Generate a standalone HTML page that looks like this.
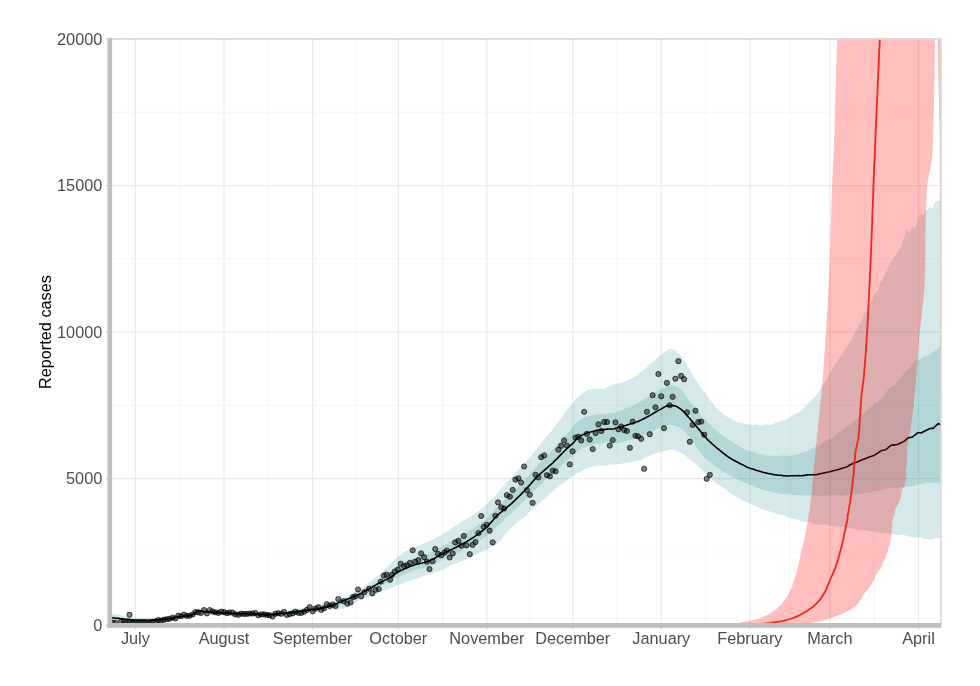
<!DOCTYPE html>
<html lang="en"><head><meta charset="utf-8"><title>Reported cases</title>
<style>html,body{margin:0;padding:0;background:#fff}body{width:980px;height:686px;overflow:hidden}svg{display:block}</style></head>
<body>
<svg width="980" height="686" viewBox="0 0 980 686">
<defs><clipPath id="cp"><rect x="109.8" y="38.9" width="831.2" height="586.4"/></clipPath></defs>
<rect width="980" height="686" fill="#fff"/>
<g stroke="#f2f2f2" stroke-width="0.8" fill="none">
<path d="M109.8 552.0H941.0"/>
<path d="M109.8 405.4H941.0"/>
<path d="M109.8 258.8H941.0"/>
<path d="M109.8 112.2H941.0"/>
<path d="M179.7 38.9V625.3"/>
<path d="M268.3 38.9V625.3"/>
<path d="M355.5 38.9V625.3"/>
<path d="M442.6 38.9V625.3"/>
<path d="M529.8 38.9V625.3"/>
<path d="M617.0 38.9V625.3"/>
<path d="M705.6 38.9V625.3"/>
<path d="M789.9 38.9V625.3"/>
<path d="M874.2 38.9V625.3"/>
</g>
<g stroke="#ebebeb" stroke-width="1.25" fill="none">
<path d="M109.8 478.7H941.0"/>
<path d="M109.8 332.1H941.0"/>
<path d="M109.8 185.5H941.0"/>
<path d="M135.4 38.9V625.3"/>
<path d="M224.0 38.9V625.3"/>
<path d="M312.6 38.9V625.3"/>
<path d="M398.3 38.9V625.3"/>
<path d="M486.9 38.9V625.3"/>
<path d="M572.7 38.9V625.3"/>
<path d="M661.3 38.9V625.3"/>
<path d="M749.9 38.9V625.3"/>
<path d="M829.9 38.9V625.3"/>
<path d="M918.5 38.9V625.3"/>
</g>
<g clip-path="url(#cp)">
<path d="M109.8 613.5L111.2 613.7L112.7 613.9L114.1 614.1L115.5 614.3L116.9 614.5L118.4 614.7L119.8 615.0L121.2 615.2L122.7 615.5L124.1 615.8L125.5 616.1L127.0 616.4L128.4 616.7L129.8 617.0L131.2 617.2L132.7 617.4L134.1 617.5L135.5 617.5L136.9 617.5L138.4 617.5L139.8 617.5L141.2 617.5L142.7 617.6L144.1 617.6L145.5 617.6L146.9 617.6L148.4 617.6L149.8 617.6L151.2 617.6L152.7 617.6L154.1 617.6L155.5 617.6L157.0 617.6L158.4 617.6L159.8 617.5L161.2 617.4L162.7 617.3L164.1 617.1L165.5 616.9L167.0 616.7L168.4 616.5L169.8 616.2L171.2 616.0L172.7 615.7L174.1 615.5L175.5 615.2L177.0 615.0L178.4 614.7L179.8 614.5L181.2 614.3L182.7 614.2L184.1 614.0L185.5 613.9L187.0 613.7L188.4 613.5L189.8 613.3L191.2 613.0L192.7 612.5L194.1 611.4L195.5 610.1L197.0 608.9L198.4 608.3L199.8 608.4L201.3 608.5L202.7 608.8L204.1 609.1L205.5 609.3L207.0 609.6L208.4 609.7L209.8 609.9L211.3 610.0L212.7 610.1L214.1 610.2L215.6 610.3L217.0 610.4L218.4 610.5L219.8 610.6L221.3 610.7L222.7 610.7L224.1 610.8L225.6 610.9L227.0 610.9L228.4 611.0L229.8 611.0L231.3 611.1L232.7 611.1L234.1 611.2L235.6 611.2L237.0 611.3L238.4 611.3L239.8 611.3L241.3 611.4L242.7 611.4L244.1 611.5L245.6 611.5L247.0 611.5L248.4 611.6L249.8 611.6L251.3 611.7L252.7 611.7L254.1 611.8L255.6 611.8L257.0 611.9L258.4 612.0L259.9 612.0L261.3 612.1L262.7 612.1L264.1 612.1L265.6 612.2L267.0 612.2L268.4 612.2L269.9 612.2L271.3 612.1L272.7 612.1L274.1 612.0L275.6 611.8L277.0 611.7L278.4 611.5L279.9 611.3L281.3 611.1L282.7 610.9L284.1 610.7L285.6 610.5L287.0 610.2L288.4 610.0L289.9 609.8L291.3 609.6L292.7 609.4L294.1 609.2L295.6 609.0L297.0 608.8L298.4 608.6L299.9 608.3L301.3 608.1L302.7 607.8L304.1 607.6L305.6 607.3L307.0 607.1L308.4 606.8L309.9 606.5L311.3 606.2L312.7 606.0L314.1 605.7L315.6 605.4L317.0 605.0L318.4 604.7L319.9 604.4L321.3 604.0L322.7 603.7L324.1 603.3L325.6 602.9L327.0 602.6L328.4 602.2L329.9 601.8L331.3 601.4L332.7 601.0L334.1 600.6L335.6 600.2L337.0 599.8L338.4 599.3L339.9 598.8L341.3 598.3L342.7 597.7L344.2 597.1L345.6 596.5L347.0 595.8L348.4 595.1L349.9 594.4L351.3 593.7L352.7 592.9L354.2 592.2L355.6 591.4L357.0 590.6L358.4 589.7L359.9 588.9L361.3 588.0L362.7 587.1L364.2 586.1L365.6 585.1L367.0 584.1L368.4 583.1L369.9 582.1L371.3 581.0L372.7 580.0L374.2 578.8L375.6 577.6L377.0 576.4L378.4 575.2L379.9 573.9L381.3 572.5L382.7 571.2L384.2 569.9L385.6 568.6L387.0 567.2L388.5 565.8L389.9 564.4L391.3 562.9L392.7 561.4L394.2 560.1L395.6 558.8L397.0 557.5L398.5 556.3L399.9 555.3L401.3 554.3L402.8 553.3L404.2 552.4L405.6 551.4L407.0 550.5L408.5 549.7L409.9 548.8L411.3 548.3L412.8 547.9L414.2 547.2L415.6 546.6L417.0 546.0L418.5 545.5L419.9 544.9L421.3 544.3L422.8 543.8L424.2 543.3L425.6 542.7L427.0 542.0L428.5 541.5L429.9 540.9L431.3 540.1L432.8 539.4L434.2 538.7L435.6 537.9L437.0 537.3L438.5 536.6L439.9 536.1L441.3 535.5L442.8 534.1L444.2 532.7L445.6 532.2L447.0 531.7L448.5 530.8L449.9 529.8L451.3 528.6L452.8 527.3L454.2 526.6L455.6 525.8L457.1 524.9L458.5 523.9L459.9 523.0L461.3 522.0L462.8 521.1L464.2 520.3L465.6 519.3L467.1 518.2L468.5 517.8L469.9 517.3L471.3 516.4L472.8 515.5L474.2 514.4L475.6 513.3L477.1 512.0L478.5 510.7L479.9 509.7L481.3 508.7L482.8 507.6L484.2 506.4L485.6 505.1L487.1 503.6L488.5 502.4L489.9 501.1L491.3 499.8L492.8 498.3L494.2 496.6L495.6 494.9L497.1 493.2L498.5 491.4L499.9 489.9L501.4 488.5L502.8 487.1L504.2 485.8L505.6 484.1L507.1 482.4L508.5 480.8L509.9 479.3L511.4 477.9L512.8 476.6L514.2 474.8L515.6 473.1L517.1 471.4L518.5 469.8L519.9 468.3L521.4 466.9L522.8 465.7L524.2 464.4L525.6 462.3L527.1 460.2L528.5 459.0L529.9 457.8L531.4 456.0L532.8 454.2L534.2 452.2L535.6 450.2L537.1 448.3L538.5 446.5L539.9 444.9L541.4 443.3L542.8 441.4L544.2 439.4L545.6 437.5L547.1 435.6L548.5 434.3L549.9 432.9L551.4 431.0L552.8 429.0L554.2 427.3L555.6 425.5L557.1 423.7L558.5 421.8L559.9 419.8L561.4 417.7L562.8 415.7L564.2 413.7L565.6 411.6L567.1 409.6L568.5 407.9L569.9 406.2L571.4 404.6L572.8 403.0L574.2 401.3L575.6 399.7L577.1 398.1L578.5 396.6L579.9 395.3L581.4 394.2L582.8 393.0L584.2 392.0L585.7 390.9L587.1 390.0L588.5 389.7L589.9 389.7L591.4 389.0L592.8 388.5L594.2 388.5L595.7 388.7L597.1 388.9L598.5 389.1L600.0 388.8L601.4 388.4L602.8 388.7L604.2 388.9L605.7 388.1L607.1 387.3L608.5 386.7L610.0 386.1L611.4 385.6L612.8 385.1L614.2 384.6L615.7 384.1L617.1 383.7L618.5 383.4L620.0 382.9L621.4 382.4L622.8 382.2L624.2 381.9L625.7 381.2L627.1 380.5L628.5 380.0L630.0 379.4L631.4 378.6L632.8 377.6L634.2 377.0L635.7 376.2L637.1 375.0L638.5 373.8L640.0 372.5L641.4 371.2L642.8 370.6L644.2 370.0L645.7 368.5L647.1 366.9L648.5 365.6L650.0 364.4L651.4 363.1L652.8 361.9L654.2 360.9L655.7 359.8L657.1 358.0L658.5 356.3L660.0 355.1L661.4 353.9L662.8 352.8L664.2 351.9L665.7 351.3L667.1 350.6L668.5 349.6L670.0 348.9L671.4 349.1L672.8 349.5L674.3 350.0L675.7 350.6L677.1 351.8L678.5 353.4L680.0 354.7L681.4 356.2L682.8 358.2L684.3 360.3L685.7 362.4L687.1 364.8L688.5 367.2L690.0 369.7L691.4 372.5L692.8 375.2L694.3 377.5L695.7 379.5L697.1 382.1L698.5 384.7L700.0 386.5L701.4 388.3L702.8 390.3L704.3 392.2L705.7 394.3L707.1 396.4L708.5 397.9L710.0 399.4L711.4 401.6L712.8 403.8L714.3 405.5L715.7 407.2L717.1 408.3L718.5 409.3L720.0 410.9L721.4 412.4L722.8 413.5L724.3 414.5L725.7 415.7L727.1 416.8L728.6 417.6L730.0 418.2L731.4 418.9L732.8 419.5L734.3 420.3L735.7 421.1L737.1 421.7L738.6 422.4L740.0 422.6L741.4 422.8L742.9 423.3L744.3 423.8L745.7 424.1L747.1 424.4L748.6 424.5L750.0 424.5L751.4 424.7L752.9 424.8L754.3 424.6L755.7 424.3L757.1 424.7L758.6 425.1L760.0 425.3L761.4 425.4L762.9 424.9L764.3 424.2L765.7 424.3L767.1 424.4L768.6 424.7L770.0 425.0L771.4 424.6L772.9 424.1L774.3 423.5L775.7 422.8L777.1 422.4L778.6 421.9L780.0 421.3L781.4 420.7L782.9 420.5L784.3 420.2L785.7 419.6L787.1 419.0L788.6 418.1L790.0 417.2L791.4 416.4L792.9 415.4L794.3 414.7L795.7 413.9L797.1 413.2L798.6 412.4L800.0 411.1L801.4 409.7L802.9 408.5L804.3 407.3L805.7 405.8L807.1 404.3L808.6 402.6L810.0 400.9L811.4 399.7L812.9 398.4L814.3 397.2L815.7 396.0L817.2 394.0L818.6 392.0L820.0 389.6L821.4 387.2L822.9 385.1L824.3 382.9L825.7 381.1L827.2 378.7L828.6 375.5L830.0 372.7L831.5 370.2L832.9 367.7L834.3 365.5L835.7 363.3L837.2 361.3L838.6 359.2L840.0 357.0L841.5 354.8L842.9 352.8L844.3 350.8L845.7 348.6L847.2 346.4L848.6 344.3L850.0 342.3L850.0 342.2L851.5 339.7L852.9 337.2L854.3 334.3L855.7 331.3L857.2 328.6L858.6 325.8L860.0 323.0L861.5 320.3L862.9 317.2L864.3 314.3L864.3 314.3L865.7 312.0L867.2 309.8L868.6 307.4L870.0 305.1L871.5 301.6L872.9 298.1L874.3 295.2L874.5 294.9L875.7 292.3L877.2 291.0L878.6 289.6L880.0 282.0L881.4 282.0L881.5 281.9L881.6 281.6L882.9 278.9L884.3 275.8L885.7 272.8L885.8 272.7L887.2 269.6L888.0 268.0L888.6 266.8L890.0 264.3L890.8 263.0L891.5 261.8L892.9 259.3L894.3 256.8L894.5 256.5L895.8 254.6L897.2 252.5L898.0 251.3L898.6 250.4L900.0 248.2L901.0 246.7L901.5 245.4L902.9 241.1L904.1 237.6L904.3 236.9L904.3 236.8L905.8 232.5L906.7 229.6L907.2 230.2L908.2 231.5L908.6 232.1L909.2 232.9L910.0 231.1L911.5 228.3L912.2 226.7L912.5 226.3L912.9 226.8L914.3 228.2L914.9 228.8L915.8 226.4L917.2 222.4L917.9 220.5L918.6 218.4L919.0 217.3L920.0 215.9L921.4 214.1L921.5 214.1L922.9 214.3L923.9 214.4L924.3 213.6L925.5 211.5L925.8 211.0L926.3 210.0L927.2 209.3L928.6 208.1L929.6 207.2L930.0 207.6L930.6 208.0L931.5 208.7L932.0 209.2L932.9 207.3L933.2 206.7L934.3 204.0L935.3 201.8L935.8 201.7L937.2 201.3L938.3 201.0L938.6 200.9L940.0 200.5L940.8 200.3L941.0 200.2L941.0 539.0L940.8 539.0L940.0 538.7L938.6 538.3L938.3 538.3L937.2 538.1L935.8 537.9L935.3 538.1L934.3 538.5L933.2 539.0L932.9 539.1L932.0 539.2L931.5 539.3L930.6 539.4L930.0 539.4L929.6 539.4L928.6 539.2L927.2 539.0L926.3 539.1L925.8 539.1L925.5 539.1L924.3 539.2L923.9 538.9L922.9 538.3L921.5 537.5L921.4 537.5L920.0 537.6L919.0 537.6L918.6 537.7L917.9 537.6L917.2 537.6L915.8 537.5L914.9 537.6L914.3 537.7L912.9 537.9L912.5 537.7L912.2 537.6L911.5 537.2L910.0 536.5L909.2 536.4L908.6 536.3L908.2 536.2L907.2 536.0L906.7 535.9L905.8 535.6L904.3 535.2L904.3 535.2L904.1 535.1L902.9 534.9L901.5 534.6L901.0 534.7L900.0 535.0L898.6 535.5L898.0 535.4L897.2 535.2L895.8 534.9L894.5 534.3L894.3 534.3L892.9 533.6L891.5 533.6L890.8 533.5L890.0 533.5L888.6 533.2L888.0 533.1L887.2 533.0L885.8 533.2L885.7 533.2L884.3 533.4L882.9 533.4L881.6 533.3L881.5 533.3L881.4 533.3L880.0 533.0L878.6 532.8L877.2 532.2L875.7 531.6L874.5 531.7L874.3 531.7L872.9 531.9L871.5 531.4L870.0 531.0L868.6 530.7L867.2 530.5L865.7 530.2L864.3 529.9L864.3 529.9L862.9 530.3L861.5 530.7L860.0 530.5L858.6 530.3L857.2 529.9L855.7 529.4L854.3 529.1L852.9 528.8L851.5 528.5L850.0 528.2L850.0 528.2L848.6 528.0L847.2 527.7L845.7 527.7L844.3 527.6L842.9 527.2L841.5 526.9L840.0 526.7L838.6 526.6L837.2 526.6L835.7 526.6L834.3 526.4L832.9 526.2L831.5 526.1L830.0 526.0L828.6 525.4L827.2 524.8L825.7 524.5L824.3 524.2L822.9 524.6L821.4 524.9L820.0 524.9L818.6 524.9L817.2 524.7L815.7 524.5L814.3 524.2L812.9 523.8L811.4 523.0L810.0 522.2L808.6 522.0L807.1 521.8L805.7 521.9L804.3 521.9L802.9 521.6L801.4 521.4L800.0 520.7L798.6 520.0L797.1 519.5L795.7 519.1L794.3 518.8L792.9 518.5L791.4 518.2L790.0 517.9L788.6 517.5L787.1 517.1L785.7 516.3L784.3 515.6L782.9 515.1L781.4 514.7L780.0 514.5L778.6 514.3L777.1 513.9L775.7 513.4L774.3 512.9L772.9 512.4L771.4 511.9L770.0 511.4L768.6 511.2L767.1 510.9L765.7 510.5L764.3 510.1L762.9 509.6L761.4 509.0L760.0 508.3L758.6 507.4L757.1 506.7L755.7 506.0L754.3 505.5L752.9 505.1L751.4 504.4L750.0 503.7L748.6 503.0L747.1 502.3L745.7 501.7L744.3 501.1L742.9 500.4L741.4 499.7L740.0 498.7L738.6 497.8L737.1 497.2L735.7 496.6L734.3 495.6L732.8 494.6L731.4 493.7L730.0 492.9L728.6 491.8L727.1 490.6L725.7 489.7L724.3 488.7L722.8 487.6L721.4 486.6L720.0 485.7L718.5 484.9L717.1 483.7L715.7 482.4L714.3 481.2L712.8 479.9L711.4 478.9L710.0 477.9L708.5 476.4L707.1 474.9L705.7 473.4L704.3 471.9L702.8 470.4L701.4 469.1L700.0 467.8L698.5 466.6L697.1 465.2L695.7 463.9L694.3 462.8L692.8 461.7L691.4 460.7L690.0 459.7L688.5 458.3L687.1 456.8L685.7 455.8L684.3 454.9L682.8 453.9L681.4 453.2L680.0 452.2L678.5 451.3L677.1 450.7L675.7 450.2L674.3 449.8L672.8 449.6L671.4 449.5L670.0 449.5L668.5 449.7L667.1 449.9L665.7 450.6L664.2 451.3L662.8 451.6L661.4 452.0L660.0 452.2L658.5 452.5L657.1 453.0L655.7 453.5L654.2 453.8L652.8 454.1L651.4 454.8L650.0 455.5L648.5 456.3L647.1 457.3L645.7 457.4L644.2 457.5L642.8 458.9L641.4 460.1L640.0 460.2L638.5 460.3L637.1 460.8L635.7 461.3L634.2 461.4L632.8 461.5L631.4 461.8L630.0 462.1L628.5 462.4L627.1 462.7L625.7 462.8L624.2 462.9L622.8 463.5L621.4 464.1L620.0 464.1L618.5 464.2L617.1 464.3L615.7 464.4L614.2 464.5L612.8 464.6L611.4 464.5L610.0 464.4L608.5 464.7L607.1 465.0L605.7 465.2L604.2 465.4L602.8 465.4L601.4 465.5L600.0 465.6L598.5 465.7L597.1 465.7L595.7 465.7L594.2 466.1L592.8 466.6L591.4 466.7L589.9 466.9L588.5 467.4L587.1 468.0L585.7 468.8L584.2 469.6L582.8 470.5L581.4 471.4L579.9 471.8L578.5 472.3L577.1 473.2L575.6 474.0L574.2 475.2L572.8 476.3L571.4 477.1L569.9 477.8L568.5 479.0L567.1 480.1L565.6 481.4L564.2 482.7L562.8 483.4L561.4 484.2L559.9 485.3L558.5 486.4L557.1 487.8L555.6 489.1L554.2 490.2L552.8 491.3L551.4 492.5L549.9 493.8L548.5 495.0L547.1 496.3L545.6 497.7L544.2 499.2L542.8 500.2L541.4 501.2L539.9 502.7L538.5 504.2L537.1 505.5L535.6 506.7L534.2 507.7L532.8 508.6L531.4 509.9L529.9 511.3L528.5 512.9L527.1 514.5L525.6 516.0L524.2 517.5L522.8 518.4L521.4 519.2L519.9 520.2L518.5 521.3L517.1 522.6L515.6 524.0L514.2 525.1L512.8 526.2L511.4 527.8L509.9 529.4L508.5 530.6L507.1 531.9L505.6 533.6L504.2 535.5L502.8 537.7L501.4 539.7L499.9 541.1L498.5 542.3L497.1 543.4L495.6 544.4L494.2 545.7L492.8 546.8L491.3 547.2L489.9 547.5L488.5 548.7L487.1 549.8L485.6 550.3L484.2 550.8L482.8 551.3L481.3 551.8L479.9 552.6L478.5 553.5L477.1 554.3L475.6 555.0L474.2 555.6L472.8 556.1L471.3 557.0L469.9 558.0L468.5 558.4L467.1 558.9L465.6 559.4L464.2 560.0L462.8 560.6L461.3 561.3L459.9 561.8L458.5 562.4L457.1 563.1L455.6 563.8L454.2 564.1L452.8 564.4L451.3 565.1L449.9 565.7L448.5 566.5L447.0 567.3L445.6 568.2L444.2 569.2L442.8 569.4L441.3 569.7L439.9 570.6L438.5 571.4L437.0 571.8L435.6 572.1L434.2 572.9L432.8 573.6L431.3 573.9L429.9 574.2L428.5 574.6L427.0 575.1L425.6 575.5L424.2 575.9L422.8 576.6L421.3 577.4L419.9 577.7L418.5 578.0L417.0 578.7L415.6 579.3L414.2 579.5L412.8 579.7L411.3 580.3L409.9 581.0L408.5 581.3L407.0 581.7L405.6 582.2L404.2 582.8L402.8 583.2L401.3 583.7L399.9 584.2L398.5 584.8L397.0 585.3L395.6 585.9L394.2 586.7L392.7 587.4L391.3 588.0L389.9 588.6L388.5 589.2L387.0 589.8L385.6 590.3L384.2 590.9L382.7 591.5L381.3 592.0L379.9 592.6L378.4 593.2L377.0 593.8L375.6 594.3L374.2 594.9L372.7 595.5L371.3 596.1L369.9 596.6L368.4 597.1L367.0 597.6L365.6 598.1L364.2 598.7L362.7 599.2L361.3 599.7L359.9 600.3L358.4 600.8L357.0 601.4L355.6 602.0L354.2 602.7L352.7 603.4L351.3 604.3L349.9 605.1L348.4 606.0L347.0 606.8L345.6 607.6L344.2 608.3L342.7 608.8L341.3 609.2L339.9 609.4L338.4 609.5L337.0 609.6L335.6 609.6L334.1 609.6L332.7 609.7L331.3 609.8L329.9 609.8L328.4 610.0L327.0 610.1L325.6 610.2L324.1 610.4L322.7 610.6L321.3 610.8L319.9 611.0L318.4 611.2L317.0 611.4L315.6 611.6L314.1 611.8L312.7 612.0L311.3 612.2L309.9 612.3L308.4 612.5L307.0 612.7L305.6 612.9L304.1 613.1L302.7 613.3L301.3 613.5L299.9 613.7L298.4 613.9L297.0 614.1L295.6 614.3L294.1 614.5L292.7 614.6L291.3 614.8L289.9 615.0L288.4 615.2L287.0 615.3L285.6 615.5L284.1 615.7L282.7 615.9L281.3 616.1L279.9 616.2L278.4 616.4L277.0 616.5L275.6 616.7L274.1 616.8L272.7 616.9L271.3 616.9L269.9 617.0L268.4 617.0L267.0 617.0L265.6 617.0L264.1 616.9L262.7 616.9L261.3 616.9L259.9 616.8L258.4 616.8L257.0 616.7L255.6 616.7L254.1 616.6L252.7 616.5L251.3 616.5L249.8 616.4L248.4 616.4L247.0 616.3L245.6 616.3L244.1 616.2L242.7 616.2L241.3 616.1L239.8 616.1L238.4 616.0L237.0 616.0L235.6 615.9L234.1 615.9L232.7 615.8L231.3 615.7L229.8 615.7L228.4 615.6L227.0 615.5L225.6 615.5L224.1 615.4L222.7 615.3L221.3 615.3L219.8 615.2L218.4 615.1L217.0 615.0L215.6 614.9L214.1 614.8L212.7 614.8L211.3 614.7L209.8 614.5L208.4 614.4L207.0 614.3L205.5 614.1L204.1 613.9L202.7 613.7L201.3 613.5L199.8 613.3L198.4 613.3L197.0 613.8L195.5 615.0L194.1 616.3L192.7 617.3L191.2 617.8L189.8 618.0L188.4 618.3L187.0 618.5L185.5 618.6L184.1 618.8L182.7 618.9L181.2 619.1L179.8 619.2L178.4 619.4L177.0 619.6L175.5 619.8L174.1 620.0L172.7 620.3L171.2 620.5L169.8 620.7L168.4 620.9L167.0 621.1L165.5 621.3L164.1 621.5L162.7 621.6L161.2 621.7L159.8 621.9L158.4 621.9L157.0 622.0L155.5 622.0L154.1 622.1L152.7 622.1L151.2 622.2L149.8 622.2L148.4 622.2L146.9 622.3L145.5 622.3L144.1 622.3L142.7 622.3L141.2 622.4L139.8 622.4L138.4 622.4L136.9 622.4L135.5 622.4L134.1 622.4L132.7 622.4L131.2 622.4L129.8 622.4L128.4 622.3L127.0 622.3L125.5 622.3L124.1 622.2L122.7 622.2L121.2 622.1L119.8 622.0L118.4 622.0L116.9 621.9L115.5 621.8L114.1 621.7L112.7 621.7L111.2 621.6L109.8 621.5Z" fill="rgb(14,126,131)" fill-opacity="0.17"/>
<path d="M109.8 616.0L111.2 616.2L112.7 616.3L114.1 616.5L115.5 616.7L116.9 616.8L118.4 617.0L119.8 617.2L121.2 617.4L122.7 617.6L124.1 617.8L125.5 618.0L127.0 618.2L128.4 618.4L129.8 618.6L131.2 618.8L132.7 618.9L134.1 619.0L135.5 619.0L136.9 619.1L138.4 619.1L139.8 619.1L141.2 619.2L142.7 619.2L144.1 619.2L145.5 619.2L146.9 619.2L148.4 619.2L149.8 619.2L151.2 619.1L152.7 619.1L154.1 619.0L155.5 619.0L157.0 619.0L158.4 618.9L159.8 618.8L161.2 618.7L162.7 618.6L164.1 618.4L165.5 618.2L167.0 618.1L168.4 617.9L169.8 617.6L171.2 617.4L172.7 617.1L174.1 616.9L175.5 616.6L177.0 616.3L178.4 616.1L179.8 615.9L181.2 615.7L182.7 615.6L184.1 615.4L185.5 615.3L187.0 615.1L188.4 614.9L189.8 614.7L191.2 614.4L192.7 613.8L194.1 612.7L195.5 611.4L197.0 610.3L198.4 609.8L199.8 609.9L201.3 610.2L202.7 610.4L204.1 610.6L205.5 610.8L207.0 611.0L208.4 611.2L209.8 611.3L211.3 611.4L212.7 611.5L214.1 611.6L215.6 611.7L217.0 611.8L218.4 611.9L219.8 612.0L221.3 612.0L222.7 612.1L224.1 612.2L225.6 612.2L227.0 612.3L228.4 612.4L229.8 612.4L231.3 612.5L232.7 612.6L234.1 612.6L235.6 612.7L237.0 612.7L238.4 612.8L239.8 612.8L241.3 612.8L242.7 612.9L244.1 612.9L245.6 613.0L247.0 613.0L248.4 613.1L249.8 613.1L251.3 613.2L252.7 613.2L254.1 613.3L255.6 613.4L257.0 613.4L258.4 613.5L259.9 613.5L261.3 613.6L262.7 613.6L264.1 613.6L265.6 613.7L267.0 613.7L268.4 613.7L269.9 613.7L271.3 613.6L272.7 613.5L274.1 613.4L275.6 613.2L277.0 613.1L278.4 612.9L279.9 612.7L281.3 612.6L282.7 612.4L284.1 612.2L285.6 612.1L287.0 611.9L288.4 611.7L289.9 611.5L291.3 611.3L292.7 611.2L294.1 611.0L295.6 610.8L297.0 610.6L298.4 610.4L299.9 610.2L301.3 610.0L302.7 609.8L304.1 609.6L305.6 609.3L307.0 609.1L308.4 608.9L309.9 608.7L311.3 608.4L312.7 608.2L314.1 608.0L315.6 607.7L317.0 607.4L318.4 607.2L319.9 606.9L321.3 606.6L322.7 606.3L324.1 605.9L325.6 605.6L327.0 605.2L328.4 604.8L329.9 604.4L331.3 604.0L332.7 603.5L334.1 603.0L335.6 602.5L337.0 602.0L338.4 601.5L339.9 600.9L341.3 600.3L342.7 599.7L344.2 599.1L345.6 598.6L347.0 598.0L348.4 597.4L349.9 596.8L351.3 596.2L352.7 595.5L354.2 594.9L355.6 594.2L357.0 593.5L358.4 592.7L359.9 591.9L361.3 591.1L362.7 590.3L364.2 589.5L365.6 588.6L367.0 587.8L368.4 586.9L369.9 586.0L371.3 585.1L372.7 584.1L374.2 583.2L375.6 582.2L377.0 581.3L378.4 580.3L379.9 579.3L381.3 578.4L382.7 577.4L384.2 576.4L385.6 575.5L387.0 574.6L388.5 573.6L389.9 572.6L391.3 571.4L392.7 570.2L394.2 569.0L395.6 567.8L397.0 566.8L398.5 565.8L399.9 565.0L401.3 564.1L402.8 563.2L404.2 562.4L405.6 561.8L407.0 561.2L408.5 560.5L409.9 559.8L411.3 559.3L412.8 558.8L414.2 558.2L415.6 557.6L417.0 557.2L418.5 556.9L419.9 556.4L421.3 556.0L422.8 555.5L424.2 555.0L425.6 554.5L427.0 554.0L428.5 553.5L429.9 552.9L431.3 552.2L432.8 551.5L434.2 550.9L435.6 550.3L437.0 549.4L438.5 548.4L439.9 547.7L441.3 546.9L442.8 546.1L444.2 545.3L445.6 544.8L447.0 544.2L448.5 543.2L449.9 542.3L451.3 541.5L452.8 540.7L454.2 539.8L455.6 538.9L457.1 538.3L458.5 537.6L459.9 536.7L461.3 535.7L462.8 535.0L464.2 534.2L465.6 533.2L467.1 532.2L468.5 531.3L469.9 530.5L471.3 529.7L472.8 529.0L474.2 528.1L475.6 527.2L477.1 525.9L478.5 524.6L479.9 523.7L481.3 522.8L482.8 521.7L484.2 520.5L485.6 519.6L487.1 518.6L488.5 516.8L489.9 514.9L491.3 513.3L492.8 511.7L494.2 510.0L495.6 508.3L497.1 507.1L498.5 505.9L499.9 504.5L501.4 503.2L502.8 501.7L504.2 500.3L505.6 499.1L507.1 498.0L508.5 496.8L509.9 495.5L511.4 493.8L512.8 492.2L514.2 490.8L515.6 489.5L517.1 488.0L518.5 486.4L519.9 484.9L521.4 483.4L522.8 481.9L524.2 480.4L525.6 478.9L527.1 477.3L528.5 475.6L529.9 473.9L531.4 472.3L532.8 470.8L534.2 469.2L535.6 467.7L537.1 465.9L538.5 464.1L539.9 462.7L541.4 461.2L542.8 459.7L544.2 458.2L545.6 456.9L547.1 455.6L548.5 454.1L549.9 452.6L551.4 451.3L552.8 449.9L554.2 448.3L555.6 446.6L557.1 444.9L558.5 443.2L559.9 441.7L561.4 440.3L562.8 438.5L564.2 436.7L565.6 435.2L567.1 433.8L568.5 432.2L569.9 430.7L571.4 428.9L572.8 427.1L574.2 425.6L575.6 423.9L577.1 422.5L578.5 421.5L579.9 420.3L581.4 419.2L582.8 418.2L584.2 417.3L585.7 416.8L587.1 416.4L588.5 416.1L589.9 416.0L591.4 415.6L592.8 415.2L594.2 414.7L595.7 414.3L597.1 414.2L598.5 414.2L600.0 414.2L601.4 414.5L602.8 414.3L604.2 414.0L605.7 414.0L607.1 414.0L608.5 413.6L610.0 413.1L611.4 413.2L612.8 413.2L614.2 412.8L615.7 412.3L617.1 411.8L618.5 411.3L620.0 410.8L621.4 410.3L622.8 409.7L624.2 409.1L625.7 408.4L627.1 407.6L628.5 407.2L630.0 406.8L631.4 406.1L632.8 405.5L634.2 404.8L635.7 404.0L637.1 403.2L638.5 402.4L640.0 401.6L641.4 400.7L642.8 399.8L644.2 398.9L645.7 398.1L647.1 397.3L648.5 396.4L650.0 395.4L651.4 394.8L652.8 394.1L654.2 393.1L655.7 392.0L657.1 391.3L658.5 390.7L660.0 389.7L661.4 388.8L662.8 388.4L664.2 387.9L665.7 387.2L667.1 386.5L668.5 385.9L670.0 385.5L671.4 385.2L672.8 385.2L674.3 385.4L675.7 385.9L677.1 386.6L678.5 387.4L680.0 388.4L681.4 389.8L682.8 391.6L684.3 393.6L685.7 395.7L687.1 397.8L688.5 399.3L690.0 400.9L691.4 403.2L692.8 405.6L694.3 407.3L695.7 408.9L697.1 410.6L698.5 412.3L700.0 414.1L701.4 415.8L702.8 417.4L704.3 419.0L705.7 420.3L707.1 421.6L708.5 422.9L710.0 424.3L711.4 425.9L712.8 427.6L714.3 428.6L715.7 429.7L717.1 431.2L718.5 432.6L720.0 433.7L721.4 434.7L722.8 435.8L724.3 436.7L725.7 437.8L727.1 438.9L728.6 439.7L730.0 440.5L731.4 441.4L732.8 442.2L734.3 443.0L735.7 443.9L737.1 444.7L738.6 445.4L740.0 446.5L741.4 447.5L742.9 448.2L744.3 449.0L745.7 449.7L747.1 450.4L748.6 450.8L750.0 451.2L751.4 451.5L752.9 451.8L754.3 452.4L755.7 453.0L757.1 453.6L758.6 454.1L760.0 454.2L761.4 454.3L762.9 454.6L764.3 454.9L765.7 455.4L767.1 455.9L768.6 455.7L770.0 455.4L771.4 455.5L772.9 455.5L774.3 455.9L775.7 456.2L777.1 456.1L778.6 456.0L780.0 455.7L781.4 455.4L782.9 455.4L784.3 455.3L785.7 455.5L787.1 455.8L788.6 455.9L790.0 455.9L791.4 455.7L792.9 455.5L794.3 455.1L795.7 454.8L797.1 454.5L798.6 454.3L800.0 453.6L801.4 452.9L802.9 452.3L804.3 451.6L805.7 451.5L807.1 451.4L808.6 450.2L810.0 449.1L811.4 448.5L812.9 448.0L814.3 447.5L815.7 446.9L817.2 446.5L818.6 446.0L820.0 444.9L821.4 443.7L822.9 442.8L824.3 441.9L825.7 440.9L827.2 439.8L828.6 439.4L830.0 439.0L831.5 438.2L832.9 437.5L834.3 436.5L835.7 435.5L837.2 434.2L838.6 432.8L840.0 432.0L841.5 431.1L842.9 429.8L844.3 428.5L845.7 427.5L847.2 426.4L848.6 425.5L850.0 424.5L850.0 424.5L851.5 423.7L852.9 422.8L854.3 421.3L855.7 419.8L857.2 418.7L858.6 417.6L860.0 416.2L861.5 414.8L862.9 413.6L864.3 412.4L864.3 412.4L865.7 411.1L867.2 409.8L868.6 408.7L870.0 407.6L871.5 406.5L872.9 405.5L874.3 403.9L874.5 403.7L875.7 402.4L877.2 401.8L878.6 401.1L880.0 399.8L881.4 398.3L881.5 398.3L881.6 398.2L882.9 397.2L884.3 395.7L885.7 392.8L885.8 392.7L887.2 390.6L888.0 389.7L888.6 389.0L890.0 387.8L890.8 387.1L891.5 386.7L892.9 385.6L894.3 384.9L894.5 384.8L895.8 384.0L897.2 382.3L898.0 381.3L898.6 380.5L900.0 378.8L901.0 377.7L901.5 377.2L902.9 374.9L904.1 373.2L904.3 372.9L904.3 372.9L905.8 371.4L906.7 370.4L907.2 370.0L908.2 369.3L908.6 369.0L909.2 368.6L910.0 368.1L911.5 365.7L912.2 364.4L912.5 364.1L912.9 363.3L914.3 362.0L914.9 361.5L915.8 360.8L917.2 360.0L917.9 359.7L918.6 359.4L919.0 359.3L920.0 359.2L921.4 359.1L921.5 359.0L922.9 357.7L923.9 356.8L924.3 356.4L925.5 356.2L925.8 356.2L926.3 356.1L927.2 355.9L928.6 355.4L929.6 355.1L930.0 354.9L930.6 354.2L931.5 353.2L932.0 352.6L932.9 351.6L933.2 351.4L934.3 350.6L935.3 349.9L935.8 349.5L937.2 349.0L938.3 348.7L938.6 348.5L940.0 346.7L940.8 345.7L941.0 345.5L941.0 482.8L940.8 482.8L940.0 482.8L938.6 482.7L938.3 482.7L937.2 482.7L935.8 482.7L935.3 482.8L934.3 483.0L933.2 483.2L932.9 483.2L932.0 483.1L931.5 483.0L930.6 482.9L930.0 482.8L929.6 482.7L928.6 482.6L927.2 482.4L926.3 482.7L925.8 482.9L925.5 483.0L924.3 483.4L923.9 483.5L922.9 483.7L921.5 484.0L921.4 484.0L920.0 484.1L919.0 484.1L918.6 484.2L917.9 484.4L917.2 484.7L915.8 485.1L914.9 485.5L914.3 485.7L912.9 486.2L912.5 486.2L912.2 486.2L911.5 486.2L910.0 486.2L909.2 486.4L908.6 486.5L908.2 486.5L907.2 486.7L906.7 486.7L905.8 486.8L904.3 486.9L904.3 486.9L904.1 486.9L902.9 487.0L901.5 487.1L901.0 487.2L900.0 487.3L898.6 487.6L898.0 487.6L897.2 487.7L895.8 487.8L894.5 488.1L894.3 488.1L892.9 488.4L891.5 488.2L890.8 488.2L890.0 488.1L888.6 488.3L888.0 488.4L887.2 488.5L885.8 488.9L885.7 488.9L884.3 489.4L882.9 489.5L881.6 489.6L881.5 489.7L881.4 489.7L880.0 490.1L878.6 490.5L877.2 490.8L875.7 491.0L874.5 491.3L874.3 491.3L872.9 491.7L871.5 492.0L870.0 492.4L868.6 492.6L867.2 492.7L865.7 492.9L864.3 493.0L864.3 493.0L862.9 493.3L861.5 493.6L860.0 493.8L858.6 494.0L857.2 494.2L855.7 494.5L854.3 494.5L852.9 494.5L851.5 494.6L850.0 494.7L850.0 494.7L848.6 494.7L847.2 494.8L845.7 495.1L844.3 495.4L842.9 495.5L841.5 495.7L840.0 495.5L838.6 495.3L837.2 495.3L835.7 495.4L834.3 495.3L832.9 495.2L831.5 495.3L830.0 495.5L828.6 495.6L827.2 495.6L825.7 495.6L824.3 495.6L822.9 495.7L821.4 495.9L820.0 495.8L818.6 495.8L817.2 495.6L815.7 495.5L814.3 495.3L812.9 495.2L811.4 495.1L810.0 495.1L808.6 495.2L807.1 495.3L805.7 495.4L804.3 495.5L802.9 495.5L801.4 495.4L800.0 495.3L798.6 495.2L797.1 495.0L795.7 494.9L794.3 494.8L792.9 494.7L791.4 494.6L790.0 494.4L788.6 494.3L787.1 494.1L785.7 494.0L784.3 493.9L782.9 493.9L781.4 493.9L780.0 493.7L778.6 493.5L777.1 493.1L775.7 492.8L774.3 492.4L772.9 492.0L771.4 491.6L770.0 491.2L768.6 491.0L767.1 490.7L765.7 490.4L764.3 490.0L762.9 489.5L761.4 489.0L760.0 488.6L758.6 488.1L757.1 487.5L755.7 487.0L754.3 486.3L752.9 485.6L751.4 485.1L750.0 484.7L748.6 484.1L747.1 483.6L745.7 483.0L744.3 482.5L742.9 481.8L741.4 481.1L740.0 480.5L738.6 479.9L737.1 479.1L735.7 478.3L734.3 477.7L732.8 477.1L731.4 476.4L730.0 475.6L728.6 474.8L727.1 474.0L725.7 473.1L724.3 472.1L722.8 471.3L721.4 470.6L720.0 469.6L718.5 468.6L717.1 467.6L715.7 466.7L714.3 465.7L712.8 464.6L711.4 463.6L710.0 462.5L708.5 461.2L707.1 459.8L705.7 458.4L704.3 457.0L702.8 455.5L701.4 454.0L700.0 452.2L698.5 450.2L697.1 448.1L695.7 446.0L694.3 443.6L692.8 441.4L691.4 439.5L690.0 437.7L688.5 435.9L687.1 434.2L685.7 432.8L684.3 431.6L682.8 430.0L681.4 428.7L680.0 427.9L678.5 427.2L677.1 426.4L675.7 425.7L674.3 425.3L672.8 425.0L671.4 424.9L670.0 425.0L668.5 425.3L667.1 425.6L665.7 425.7L664.2 425.8L662.8 426.3L661.4 426.7L660.0 427.3L658.5 427.9L657.1 428.8L655.7 429.6L654.2 430.4L652.8 431.2L651.4 431.9L650.0 432.6L648.5 433.3L647.1 434.0L645.7 434.3L644.2 434.7L642.8 435.7L641.4 436.6L640.0 437.0L638.5 437.4L637.1 438.1L635.7 438.7L634.2 439.0L632.8 439.3L631.4 439.8L630.0 440.3L628.5 440.6L627.1 441.0L625.7 441.2L624.2 441.4L622.8 441.9L621.4 442.3L620.0 442.6L618.5 442.8L617.1 442.9L615.7 442.8L614.2 442.9L612.8 443.0L611.4 442.6L610.0 442.2L608.5 442.3L607.1 442.3L605.7 442.5L604.2 442.7L602.8 443.2L601.4 443.7L600.0 443.8L598.5 443.8L597.1 443.7L595.7 443.7L594.2 444.4L592.8 445.0L591.4 445.3L589.9 445.6L588.5 446.1L587.1 446.6L585.7 446.9L584.2 447.2L582.8 447.9L581.4 448.7L579.9 449.6L578.5 450.5L577.1 451.5L575.6 452.8L574.2 454.4L572.8 455.8L571.4 457.0L569.9 458.1L568.5 459.3L567.1 460.6L565.6 462.0L564.2 463.3L562.8 464.5L561.4 465.7L559.9 467.0L558.5 468.3L557.1 469.7L555.6 471.0L554.2 472.6L552.8 474.2L551.4 475.4L549.9 476.5L548.5 477.4L547.1 478.3L545.6 479.9L544.2 481.6L542.8 482.8L541.4 484.0L539.9 485.2L538.5 486.5L537.1 488.0L535.6 489.5L534.2 490.8L532.8 492.0L531.4 493.7L529.9 495.3L528.5 496.7L527.1 498.1L525.6 499.6L524.2 501.1L522.8 502.4L521.4 503.6L519.9 505.1L518.5 506.6L517.1 507.8L515.6 508.9L514.2 510.2L512.8 511.4L511.4 512.8L509.9 514.1L508.5 515.6L507.1 517.1L505.6 518.3L504.2 519.6L502.8 521.0L501.4 522.4L499.9 523.7L498.5 525.0L497.1 526.2L495.6 527.5L494.2 528.7L492.8 530.1L491.3 531.6L489.9 533.1L488.5 534.3L487.1 535.4L485.6 536.6L484.2 537.7L482.8 538.6L481.3 539.4L479.9 540.5L478.5 541.5L477.1 542.5L475.6 543.5L474.2 544.3L472.8 545.0L471.3 545.8L469.9 546.6L468.5 547.4L467.1 548.1L465.6 548.7L464.2 549.3L462.8 550.3L461.3 551.2L459.9 551.8L458.5 552.4L457.1 553.1L455.6 553.8L454.2 554.5L452.8 555.2L451.3 555.9L449.9 556.6L448.5 557.0L447.0 557.3L445.6 558.1L444.2 558.9L442.8 559.6L441.3 560.3L439.9 561.0L438.5 561.7L437.0 562.6L435.6 563.6L434.2 564.1L432.8 564.6L431.3 565.4L429.9 566.0L428.5 566.4L427.0 566.7L425.6 567.3L424.2 567.9L422.8 568.2L421.3 568.5L419.9 568.8L418.5 569.2L417.0 569.6L415.6 570.1L414.2 570.5L412.8 571.0L411.3 571.5L409.9 572.0L408.5 572.6L407.0 573.3L405.6 573.8L404.2 574.3L402.8 575.0L401.3 575.6L399.9 576.3L398.5 577.0L397.0 577.6L395.6 578.2L394.2 579.1L392.7 580.1L391.3 580.9L389.9 581.7L388.5 582.5L387.0 583.2L385.6 583.9L384.2 584.6L382.7 585.2L381.3 585.8L379.9 586.5L378.4 587.2L377.0 587.9L375.6 588.6L374.2 589.4L372.7 590.1L371.3 590.8L369.9 591.5L368.4 592.3L367.0 593.0L365.6 593.6L364.2 594.3L362.7 595.0L361.3 595.7L359.9 596.3L358.4 597.0L357.0 597.6L355.6 598.3L354.2 598.9L352.7 599.6L351.3 600.2L349.9 600.9L348.4 601.6L347.0 602.2L345.6 602.8L344.2 603.4L342.7 604.0L341.3 604.5L339.9 605.0L338.4 605.4L337.0 605.8L335.6 606.2L334.1 606.5L332.7 606.9L331.3 607.2L329.9 607.5L328.4 607.8L327.0 608.1L325.6 608.4L324.1 608.7L322.7 608.9L321.3 609.2L319.9 609.4L318.4 609.7L317.0 609.9L315.6 610.1L314.1 610.3L312.7 610.5L311.3 610.7L309.9 610.9L308.4 611.1L307.0 611.3L305.6 611.5L304.1 611.7L302.7 611.9L301.3 612.1L299.9 612.3L298.4 612.4L297.0 612.6L295.6 612.8L294.1 613.0L292.7 613.2L291.3 613.3L289.9 613.5L288.4 613.7L287.0 613.8L285.6 614.0L284.1 614.2L282.7 614.3L281.3 614.5L279.9 614.6L278.4 614.8L277.0 614.9L275.6 615.1L274.1 615.2L272.7 615.4L271.3 615.4L269.9 615.5L268.4 615.5L267.0 615.5L265.6 615.5L264.1 615.5L262.7 615.5L261.3 615.4L259.9 615.4L258.4 615.3L257.0 615.3L255.6 615.2L254.1 615.2L252.7 615.1L251.3 615.0L249.8 615.0L248.4 614.9L247.0 614.9L245.6 614.8L244.1 614.8L242.7 614.7L241.3 614.7L239.8 614.6L238.4 614.6L237.0 614.5L235.6 614.5L234.1 614.4L232.7 614.4L231.3 614.3L229.8 614.2L228.4 614.1L227.0 614.1L225.6 614.0L224.1 613.9L222.7 613.9L221.3 613.8L219.8 613.7L218.4 613.6L217.0 613.6L215.6 613.5L214.1 613.4L212.7 613.3L211.3 613.2L209.8 613.1L208.4 613.0L207.0 612.8L205.5 612.7L204.1 612.5L202.7 612.3L201.3 612.1L199.8 611.8L198.4 611.7L197.0 612.2L195.5 613.3L194.1 614.6L192.7 615.7L191.2 616.2L189.8 616.5L188.4 616.8L187.0 617.0L185.5 617.1L184.1 617.3L182.7 617.4L181.2 617.5L179.8 617.7L178.4 617.9L177.0 618.1L175.5 618.4L174.1 618.6L172.7 618.9L171.2 619.1L169.8 619.4L168.4 619.6L167.0 619.8L165.5 619.9L164.1 620.1L162.7 620.2L161.2 620.4L159.8 620.5L158.4 620.6L157.0 620.6L155.5 620.7L154.1 620.8L152.7 620.8L151.2 620.9L149.8 620.9L148.4 621.0L146.9 621.0L145.5 621.0L144.1 621.0L142.7 621.0L141.2 621.0L139.8 621.0L138.4 621.0L136.9 621.0L135.5 620.9L134.1 620.9L132.7 620.8L131.2 620.7L129.8 620.6L128.4 620.5L127.0 620.5L125.5 620.4L124.1 620.2L122.7 620.1L121.2 620.0L119.8 619.9L118.4 619.8L116.9 619.7L115.5 619.6L114.1 619.4L112.7 619.3L111.2 619.2L109.8 619.1Z" fill="rgb(14,126,131)" fill-opacity="0.17"/>
<path d="M109.8 617.6L111.2 617.7L112.7 617.9L114.1 618.0L115.5 618.2L116.9 618.3L118.4 618.4L119.8 618.6L121.2 618.7L122.7 618.9L124.1 619.0L125.5 619.2L127.0 619.3L128.4 619.4L129.8 619.6L131.2 619.7L132.7 619.9L134.1 620.0L135.5 620.0L136.9 620.1L138.4 620.1L139.8 620.1L141.2 620.2L142.7 620.2L144.1 620.2L145.5 620.2L146.9 620.2L148.4 620.2L149.8 620.1L151.2 620.1L152.7 620.0L154.1 620.0L155.5 619.9L157.0 619.8L158.4 619.7L159.8 619.6L161.2 619.5L162.7 619.4L164.1 619.2L165.5 619.1L167.0 618.9L168.4 618.8L169.8 618.5L171.2 618.3L172.7 618.0L174.1 617.7L175.5 617.5L177.0 617.2L178.4 616.9L179.8 616.7L181.2 616.6L182.7 616.4L184.1 616.3L185.5 616.2L187.0 616.0L188.4 615.8L189.8 615.6L191.2 615.2L192.7 614.6L194.1 613.5L195.5 612.3L197.0 611.2L198.4 610.7L199.8 610.8L201.3 611.2L202.7 611.4L204.1 611.6L205.5 611.7L207.0 611.9L208.4 612.0L209.8 612.2L211.3 612.3L212.7 612.4L214.1 612.5L215.6 612.6L217.0 612.7L218.4 612.7L219.8 612.8L221.3 612.9L222.7 612.9L224.1 613.0L225.6 613.1L227.0 613.2L228.4 613.2L229.8 613.3L231.3 613.4L232.7 613.5L234.1 613.5L235.6 613.6L237.0 613.6L238.4 613.7L239.8 613.7L241.3 613.8L242.7 613.8L244.1 613.8L245.6 613.9L247.0 613.9L248.4 614.0L249.8 614.0L251.3 614.1L252.7 614.2L254.1 614.3L255.6 614.3L257.0 614.4L258.4 614.5L259.9 614.5L261.3 614.5L262.7 614.5L264.1 614.6L265.6 614.6L267.0 614.6L268.4 614.6L269.9 614.6L271.3 614.5L272.7 614.4L274.1 614.3L275.6 614.1L277.0 613.9L278.4 613.8L279.9 613.6L281.3 613.5L282.7 613.3L284.1 613.2L285.6 613.1L287.0 612.9L288.4 612.8L289.9 612.6L291.3 612.4L292.7 612.3L294.1 612.1L295.6 611.9L297.0 611.7L298.4 611.5L299.9 611.3L301.3 611.1L302.7 611.0L304.1 610.8L305.6 610.6L307.0 610.4L308.4 610.2L309.9 610.0L311.3 609.8L312.7 609.6L314.1 609.4L315.6 609.2L317.0 609.0L318.4 608.7L319.9 608.5L321.3 608.2L322.7 607.9L324.1 607.6L325.6 607.3L327.0 606.9L328.4 606.5L329.9 606.1L331.3 605.6L332.7 605.1L334.1 604.6L335.6 604.0L337.0 603.4L338.4 602.8L339.9 602.2L341.3 601.6L342.7 601.0L344.2 600.4L345.6 599.9L347.0 599.3L348.4 598.8L349.9 598.3L351.3 597.7L352.7 597.1L354.2 596.5L355.6 595.9L357.0 595.3L358.4 594.6L359.9 593.8L361.3 593.1L362.7 592.3L364.2 591.6L365.6 590.8L367.0 590.0L368.4 589.2L369.9 588.4L371.3 587.6L372.7 586.8L374.2 585.9L375.6 585.1L377.0 584.3L378.4 583.5L379.9 582.7L381.3 582.0L382.7 581.3L384.2 580.6L385.6 579.9L387.0 579.1L388.5 578.3L389.9 577.5L391.3 576.6L392.7 575.6L394.2 574.6L395.6 573.6L397.0 572.7L398.5 571.8L399.9 571.1L401.3 570.4L402.8 569.7L404.2 569.0L405.6 568.4L407.0 567.8L408.5 567.2L409.9 566.6L411.3 566.1L412.8 565.6L414.2 565.1L415.6 564.6L417.0 564.2L418.5 563.9L419.9 563.5L421.3 563.2L422.8 562.8L424.2 562.5L425.6 562.1L427.0 561.6L428.5 561.1L429.9 560.5L431.3 559.9L432.8 559.2L434.2 558.4L435.6 557.7L437.0 556.9L438.5 556.1L439.9 555.3L441.3 554.5L442.8 553.8L444.2 553.1L445.6 552.4L447.0 551.7L448.5 551.0L449.9 550.3L451.3 549.6L452.8 548.9L454.2 548.2L455.6 547.5L457.1 546.8L458.5 546.0L459.9 545.3L461.3 544.5L462.8 543.8L464.2 543.0L465.6 542.2L467.1 541.4L468.5 540.5L469.9 539.6L471.3 538.7L472.8 537.8L474.2 536.8L475.6 535.8L477.1 534.8L478.5 533.8L479.9 532.7L481.3 531.6L482.8 530.5L484.2 529.3L485.6 528.1L487.1 526.8L488.5 525.4L489.9 523.8L491.3 522.1L492.8 520.4L494.2 518.7L495.6 517.0L497.1 515.6L498.5 514.3L499.9 513.0L501.4 511.8L502.8 510.6L504.2 509.5L505.6 508.3L507.1 507.2L508.5 506.0L509.9 504.9L511.4 503.6L512.8 502.3L514.2 501.0L515.6 499.6L517.1 498.2L518.5 496.8L519.9 495.4L521.4 493.9L522.8 492.4L524.2 491.0L525.6 489.5L527.1 487.9L528.5 486.4L529.9 484.7L531.4 483.1L532.8 481.5L534.2 479.9L535.6 478.4L537.1 476.9L538.5 475.5L539.9 474.1L541.4 472.8L542.8 471.6L544.2 470.3L545.6 469.1L547.1 467.8L548.5 466.6L549.9 465.4L551.4 464.1L552.8 462.8L554.2 461.4L555.6 460.0L557.1 458.6L558.5 457.1L559.9 455.6L561.4 454.2L562.8 452.7L564.2 451.2L565.6 449.8L567.1 448.4L568.5 447.1L569.9 445.9L571.4 444.7L572.8 443.4L574.2 441.8L575.6 440.0L577.1 438.4L578.5 437.2L579.9 436.3L581.4 435.5L582.8 434.8L584.2 434.1L585.7 433.6L587.1 433.0L588.5 432.6L589.9 432.2L591.4 431.8L592.8 431.4L594.2 431.0L595.7 430.5L597.1 430.2L598.5 429.9L600.0 429.8L601.4 430.1L602.8 429.9L604.2 429.6L605.7 429.3L607.1 429.1L608.5 429.0L610.0 429.0L611.4 429.0L612.8 429.0L614.2 428.7L615.7 428.1L617.1 427.7L618.5 427.3L620.0 426.9L621.4 426.6L622.8 426.2L624.2 425.8L625.7 425.4L627.1 425.0L628.5 424.6L630.0 424.1L631.4 423.7L632.8 423.3L634.2 422.8L635.7 422.3L637.1 421.8L638.5 421.2L640.0 420.6L641.4 419.9L642.8 419.2L644.2 418.5L645.7 417.7L647.1 416.9L648.5 416.2L650.0 415.4L651.4 414.6L652.8 413.7L654.2 412.9L655.7 412.0L657.1 411.2L658.5 410.4L660.0 409.6L661.4 408.9L662.8 408.0L664.2 407.1L665.7 406.4L667.1 405.8L668.5 405.6L670.0 405.6L671.4 405.6L672.8 405.6L674.3 405.7L675.7 406.1L677.1 406.8L678.5 407.7L680.0 408.6L681.4 409.6L682.8 410.9L684.3 412.4L685.7 414.0L687.1 415.6L688.5 417.2L690.0 418.7L691.4 420.4L692.8 422.0L694.3 423.7L695.7 425.5L697.1 427.2L698.5 428.9L700.0 430.6L701.4 432.4L702.8 434.1L704.3 435.9L705.7 437.5L707.1 439.0L708.5 440.5L710.0 441.8L711.4 443.2L712.8 444.5L714.3 445.7L715.7 447.0L717.1 448.2L718.5 449.3L720.0 450.5L721.4 451.6L722.8 452.8L724.3 453.9L725.7 455.0L727.1 456.1L728.6 457.1L730.0 458.0L731.4 458.9L732.8 459.7L734.3 460.5L735.7 461.3L737.1 462.0L738.6 462.7L740.0 463.5L741.4 464.2L742.9 464.9L744.3 465.6L745.7 466.4L747.1 467.2L748.6 467.8L750.0 468.3L751.4 468.7L752.9 469.1L754.3 469.6L755.7 470.2L757.1 470.6L758.6 471.0L760.0 471.4L761.4 471.7L762.9 472.2L764.3 472.6L765.7 472.9L767.1 473.2L768.6 473.5L770.0 473.7L771.4 474.1L772.9 474.4L774.3 474.7L775.7 474.9L777.1 475.0L778.6 475.2L780.0 475.3L781.4 475.3L782.9 475.6L784.3 475.8L785.7 475.9L787.1 476.0L788.6 475.9L790.0 475.7L791.4 475.7L792.9 475.7L794.3 475.7L795.7 475.7L797.1 475.7L798.6 475.6L800.0 475.7L801.4 475.8L802.9 475.6L804.3 475.4L805.7 475.2L807.1 474.9L808.6 474.8L810.0 474.7L811.4 474.7L812.9 474.7L814.3 474.8L815.7 474.8L817.2 474.5L818.6 474.1L820.0 473.8L821.4 473.5L822.9 473.2L824.3 472.9L825.7 472.5L827.2 472.2L828.6 472.0L830.0 471.8L831.5 471.3L832.9 470.7L834.3 470.5L835.7 470.2L837.2 469.8L838.6 469.4L840.0 469.1L841.5 468.6L842.9 468.1L844.3 467.5L845.7 467.2L847.2 466.7L848.6 465.8L850.0 465.0L850.0 464.8L851.5 464.2L852.9 463.6L854.3 463.0L855.7 462.5L857.2 461.9L858.6 461.3L860.0 460.7L861.5 460.1L862.9 459.6L864.3 459.0L864.3 459.0L865.7 458.4L867.2 457.9L868.6 457.3L870.0 456.8L871.5 456.3L872.9 455.7L874.3 455.2L874.5 455.1L875.7 454.3L877.2 453.4L878.6 452.5L880.0 451.5L881.4 450.6L881.5 450.6L881.6 450.5L882.9 450.3L884.3 450.0L885.7 449.7L885.8 449.7L887.2 448.5L888.0 447.8L888.6 447.3L890.0 446.1L890.8 445.4L891.5 445.3L892.9 445.1L894.3 444.9L894.5 444.9L895.8 444.7L897.2 444.5L898.0 444.4L898.6 444.1L900.0 443.3L901.0 442.9L901.5 442.6L902.9 441.9L904.1 441.3L904.3 441.1L904.3 441.1L905.8 439.9L906.7 439.0L907.2 438.6L908.2 437.8L908.6 437.7L909.2 437.6L910.0 437.5L911.5 437.3L912.2 437.2L912.5 437.1L912.9 436.7L914.3 435.5L914.9 435.1L915.8 434.4L917.2 433.2L917.9 432.7L918.6 432.7L919.0 432.7L920.0 432.8L921.4 432.9L921.5 432.8L922.9 432.0L923.9 431.5L924.3 431.3L925.5 430.6L925.8 430.5L926.3 430.3L927.2 429.9L928.6 429.2L929.6 428.8L930.0 428.6L930.6 428.4L931.5 428.4L932.0 428.4L932.9 428.4L933.2 428.4L934.3 427.2L935.3 426.3L935.8 425.9L937.2 424.5L938.3 423.5L938.6 423.7L940.0 424.4L940.8 424.8L941.0 424.8" fill="none" stroke="#000" stroke-width="1.6" stroke-linejoin="round"/>
<path d="M731.4 623.8L733.9 623.5L736.4 623.2L738.8 622.8L741.3 622.3L743.8 621.9L746.3 621.4L748.7 621.0L751.2 620.4L753.5 619.9L756.1 619.2L758.4 618.5L760.8 617.7L763.1 616.8L765.4 615.8L767.7 614.7L769.9 613.6L771.9 612.2L774.0 610.8L776.2 609.3L777.8 607.7L779.6 606.0L781.6 604.2L783.1 602.3L784.4 600.3L786.0 598.3L787.4 596.2L788.4 594.0L789.4 591.7L790.8 589.4L792.0 587.1L792.5 584.8L793.2 582.4L794.3 580.0L795.1 577.6L795.6 575.2L796.5 572.8L797.2 570.4L797.5 568.0L798.0 565.5L798.8 563.1L799.4 560.7L800.2 558.2L800.2 555.8L800.9 553.4L801.4 550.9L801.7 548.5L802.7 546.1L803.4 543.6L803.6 541.2L804.6 538.7L804.9 536.3L805.4 533.8L805.8 531.4L806.4 528.9L806.3 526.4L807.2 524.0L807.6 521.5L807.5 519.1L808.4 516.6L808.6 514.1L809.3 511.6L809.4 509.2L809.8 506.7L810.3 504.2L810.3 501.7L810.9 499.3L811.1 496.8L811.5 494.3L811.5 491.8L812.1 489.3L812.2 486.8L812.3 484.3L812.7 481.9L813.0 479.4L813.3 476.9L812.9 474.4L813.6 471.9L813.8 469.4L813.9 466.9L814.0 464.4L814.7 461.9L814.5 459.5L815.0 457.0L815.4 454.5L815.2 452.0L815.7 449.5L815.8 447.0L816.2 444.5L816.6 442.0L816.9 439.6L816.7 437.1L817.1 434.6L817.5 432.1L817.9 429.6L818.0 427.1L818.1 424.6L818.5 422.1L818.7 419.7L818.9 417.2L819.1 414.7L819.5 412.2L819.7 409.7L819.9 407.2L820.2 404.7L820.4 402.2L820.7 399.7L821.0 396.9L821.3 393.7L821.6 390.3L822.0 387.2L822.2 384.3L822.5 382.0L822.6 380.5L822.7 380.0L822.5 381.5L822.3 384.7L822.1 388.4L821.8 391.2L821.8 392.0L821.8 391.8L821.8 391.5L821.9 390.9L821.9 390.1L822.0 389.1L822.1 388.0L822.2 386.6L822.3 385.1L822.4 383.5L822.5 381.7L822.7 379.7L822.8 377.6L823.0 375.4L823.1 373.0L823.3 370.6L823.5 368.0L823.7 365.3L823.9 362.5L824.1 359.7L824.3 356.7L824.5 353.7L824.7 350.6L824.9 347.5L825.1 344.3L825.3 341.1L825.5 337.8L825.7 334.5L825.9 331.2L826.2 327.9L826.4 324.6L826.6 321.2L826.8 317.9L827.0 314.6L827.2 311.4L827.4 308.1L827.6 304.9L827.8 301.8L827.9 298.7L828.1 295.6L828.3 292.7L828.4 289.8L828.6 287.0L828.7 284.2L828.8 281.6L828.9 279.1L829.1 276.6L829.2 274.1L829.3 271.6L829.4 269.1L829.5 266.6L829.6 264.1L829.6 261.6L829.7 259.1L829.8 256.6L829.9 254.1L830.0 251.6L830.1 249.1L830.2 246.6L830.2 244.1L830.3 241.6L830.4 239.1L830.5 236.6L830.5 234.1L830.6 231.6L830.7 229.1L830.8 226.6L830.8 224.1L830.9 221.6L831.0 219.1L831.1 216.6L831.1 214.1L831.2 211.6L831.3 209.1L831.4 206.6L831.5 204.1L831.5 201.6L831.6 199.1L831.7 196.6L831.8 194.2L831.9 191.7L832.0 189.2L832.1 186.7L832.2 184.2L832.3 181.7L832.4 179.2L832.5 176.7L832.6 174.2L832.7 171.7L832.8 169.2L833.0 166.7L833.1 164.2L833.3 161.7L833.4 159.2L833.5 156.7L833.6 154.2L833.7 151.7L833.8 149.2L833.9 146.7L834.0 144.2L834.0 141.7L834.1 139.2L834.2 136.7L834.3 134.2L834.4 131.7L834.5 129.2L834.5 126.7L834.6 124.2L834.7 121.7L834.8 119.2L834.8 116.7L834.9 114.2L835.0 111.7L835.1 109.2L835.1 106.7L835.2 104.2L835.3 101.7L835.3 99.2L835.4 96.7L835.5 94.2L835.5 91.7L835.6 89.2L835.7 86.7L835.7 84.2L835.8 81.7L835.9 79.2L835.9 76.7L836.0 74.2L836.1 71.7L836.2 69.2L836.2 66.7L836.3 64.2L836.4 61.7L836.5 59.2L836.6 56.7L836.6 54.2L836.7 51.7L836.8 49.2L836.9 46.7L837.0 44.2L837.1 41.7L837.2 39.2L837.3 36.8L837.4 34.3L837.5 31.8L837.6 30.0L935.2 30.0L935.1 32.4L935.1 34.9L935.0 37.4L935.0 39.9L934.9 42.4L934.9 44.9L934.8 47.4L934.8 49.9L934.8 52.4L934.7 54.9L934.7 57.4L934.6 59.9L934.6 62.4L934.6 64.9L934.5 67.4L934.5 69.9L934.5 72.4L934.4 74.9L934.4 77.4L934.4 79.9L934.3 82.4L934.3 84.9L934.2 87.4L934.2 89.9L934.2 92.4L934.1 94.9L934.1 97.4L934.0 99.9L934.0 102.4L933.9 104.9L933.9 107.4L933.8 109.9L933.8 112.4L933.7 114.9L933.7 117.4L933.6 119.9L933.6 122.4L933.5 124.9L933.4 127.4L933.4 129.9L933.3 132.4L933.2 134.9L933.1 137.4L933.1 139.9L933.0 142.4L932.9 144.9L932.7 147.4L932.6 149.9L932.5 152.4L932.3 154.9L932.1 157.4L931.8 159.8L931.4 162.3L931.0 164.8L930.6 167.3L930.1 169.7L929.7 172.2L929.1 174.6L928.6 177.1L928.1 179.5L927.7 182.0L927.3 184.4L927.1 186.9L926.9 189.4L926.7 191.9L926.6 194.4L926.5 196.9L926.4 199.4L926.3 201.9L926.2 204.4L926.1 206.9L926.0 209.4L926.0 211.9L925.9 214.4L925.9 216.9L925.8 219.4L925.7 221.9L925.7 224.4L925.6 226.9L925.6 229.4L925.5 231.9L925.5 234.4L925.5 236.9L925.4 239.4L925.4 241.9L925.4 244.4L925.3 246.9L925.3 249.4L925.3 251.9L925.2 254.4L925.2 256.9L925.2 259.4L925.1 261.9L925.1 264.4L925.1 266.9L925.0 269.4L925.0 271.9L924.9 274.4L924.8 276.9L924.8 279.4L924.7 281.9L924.6 284.4L924.5 286.9L924.3 289.4L924.1 291.9L923.9 294.4L923.7 296.8L923.5 299.3L923.2 301.8L922.9 304.3L922.6 306.8L922.3 309.3L922.1 311.8L921.8 314.2L921.5 316.7L921.2 319.2L920.9 321.7L920.6 324.2L920.3 326.7L920.1 329.2L919.8 331.7L919.6 334.2L919.4 336.6L919.2 339.1L919.0 341.6L918.8 344.1L918.6 346.6L918.4 349.1L918.2 351.6L918.0 354.1L917.8 356.6L917.6 359.1L917.5 361.6L917.3 364.1L917.1 366.6L916.9 369.1L916.7 371.5L916.5 374.0L916.3 376.5L916.1 379.0L915.9 381.5L915.7 384.0L915.4 386.5L915.2 389.0L915.0 391.5L914.7 393.9L914.5 396.4L914.1 398.9L914.0 401.4L913.7 403.9L913.6 406.4L913.2 408.9L912.8 411.4L912.6 413.9L912.4 416.3L912.0 418.8L911.6 421.3L911.2 423.8L910.8 426.2L910.6 428.7L910.0 431.2L909.3 433.6L909.0 436.1L908.3 438.5L908.1 441.0L908.1 443.4L907.4 445.9L907.6 448.4L907.4 450.9L907.2 453.4L907.0 455.9L907.2 458.4L906.5 460.9L906.8 463.4L906.6 465.9L906.1 468.4L905.7 471.0L906.2 473.5L906.1 476.0L905.8 478.6L905.6 481.0L905.3 483.5L904.7 485.8L903.1 488.0L901.8 490.2L901.7 492.5L901.0 495.0L900.8 497.5L900.0 499.9L898.9 502.2L897.8 504.5L896.8 506.8L895.3 509.1L894.6 511.5L894.6 513.9L894.0 516.3L893.1 518.8L892.4 521.2L892.2 523.7L892.4 526.2L891.8 528.7L891.5 531.1L891.9 533.6L891.2 536.1L890.9 538.6L890.4 541.0L890.2 543.5L889.4 545.9L888.2 548.3L888.0 550.8L887.1 553.1L886.1 555.5L885.5 557.9L884.4 560.2L882.9 562.6L882.4 564.9L881.6 567.0L880.1 569.1L878.3 571.0L877.3 573.1L875.6 575.3L874.9 577.6L874.3 579.9L872.6 582.1L871.3 584.4L870.3 586.5L868.7 588.5L867.2 590.5L865.2 592.5L864.0 594.5L862.5 596.6L861.6 598.7L859.6 600.9L858.8 602.9L856.8 604.8L855.2 606.4L853.1 607.9L850.9 609.2L848.8 610.5L846.6 611.7L844.4 612.8L842.2 613.8L839.9 614.7L837.4 615.6L835.2 616.5L832.8 617.4L830.5 618.2L828.0 619.1L825.7 619.9L823.2 620.6L820.9 621.2L818.4 621.7L816.0 622.1L813.5 622.5L811.0 622.8L808.5 623.2L806.0 623.4L803.6 623.7L801.1 623.9L798.6 624.2L796.1 624.3L793.6 624.5Z" fill="#ff0000" fill-opacity="0.25"/>
<path d="M937.5 38.9L942.0 38.9L942.0 400L940.4 400L939.7 140Z" fill="#ff0000" fill-opacity="0.25"/>
<path d="M748.6 624.3L751.1 624.3L753.6 624.2L756.1 624.1L758.6 624.0L761.1 623.9L763.6 623.7L766.0 623.5L768.5 623.2L771.0 622.9L773.5 622.5L776.0 622.1L778.4 621.7L780.9 621.3L783.4 620.8L785.8 620.2L788.2 619.5L790.6 618.8L793.0 618.0L795.3 617.2L797.6 616.2L799.8 615.0L802.1 613.8L804.3 612.5L806.4 611.3L808.6 609.9L810.5 608.5L812.7 607.0L814.4 605.4L816.3 603.7L818.1 601.9L819.6 600.0L821.1 597.9L822.4 595.9L823.8 593.8L825.2 591.6L826.3 589.4L827.1 587.1L828.0 584.7L829.2 582.4L829.9 580.1L831.0 577.8L832.0 575.5L833.2 573.2L834.0 570.9L835.0 568.6L835.8 566.2L836.5 563.9L837.4 561.5L838.3 559.1L838.7 556.7L839.5 554.3L840.0 551.9L840.8 549.4L841.4 547.0L842.0 544.6L842.5 542.1L843.3 539.7L843.6 537.3L844.1 534.8L844.6 532.4L845.3 529.9L845.6 527.5L846.1 525.0L846.8 522.6L847.3 520.1L847.6 517.7L847.6 515.2L848.3 512.7L848.6 510.3L849.0 507.8L849.5 505.3L850.2 502.9L850.3 500.4L850.5 497.9L851.1 495.4L851.3 493.0L851.7 490.5L851.9 488.0L852.3 485.5L852.7 483.0L852.7 480.5L853.0 478.1L853.6 475.6L853.8 473.1L853.9 470.6L854.0 468.1L854.3 465.6L854.3 463.1L854.6 460.6L855.0 458.1L855.0 455.6L855.4 453.1L855.6 450.7L856.2 448.2L856.9 445.8L857.3 443.4L857.9 440.9L858.3 438.5L858.6 436.0L858.9 433.5L859.1 431.1L859.2 428.6L859.4 426.1L859.6 423.6L859.7 421.1L860.0 418.6L860.0 416.1L860.2 413.6L860.3 411.1L860.5 408.6L860.7 406.1L860.8 403.6L861.0 401.1L861.2 398.6L861.4 396.1L861.6 393.6L861.9 391.1L862.3 388.6L862.6 386.2L863.0 383.7L863.4 381.2L863.6 378.7L863.9 376.2L864.1 373.8L864.3 371.3L864.5 368.8L864.7 366.3L864.9 363.8L865.1 361.3L865.3 358.8L865.5 356.3L865.7 353.8L865.9 351.4L866.0 348.9L866.2 346.4L866.4 343.9L866.5 341.4L866.7 338.9L866.8 336.4L867.0 333.9L867.1 331.4L867.3 328.9L867.4 326.4L867.6 323.9L867.7 321.4L867.8 318.9L868.0 316.4L868.1 313.9L868.2 311.4L868.3 308.9L868.5 306.4L868.6 303.9L868.7 301.4L868.8 298.9L869.0 296.4L869.1 293.9L869.2 291.4L869.3 288.9L869.4 286.4L869.6 283.9L869.7 281.4L869.8 278.9L869.9 276.4L870.0 273.9L870.2 271.4L870.3 268.9L870.4 266.4L870.5 263.9L870.6 261.4L870.7 258.9L870.8 256.4L870.9 253.9L871.0 251.4L871.1 248.9L871.2 246.5L871.3 244.0L871.4 241.5L871.5 239.0L871.6 236.5L871.7 234.0L871.8 231.5L871.9 229.0L872.0 226.5L872.1 224.0L872.2 221.5L872.2 219.0L872.3 216.5L872.4 214.0L872.5 211.5L872.6 209.0L872.7 206.5L872.8 204.0L872.9 201.5L873.0 199.0L873.1 196.5L873.2 194.0L873.3 191.5L873.3 189.0L873.4 186.5L873.5 184.0L873.6 181.5L873.7 179.0L873.8 176.5L873.9 174.0L874.0 171.5L874.1 169.0L874.2 166.5L874.3 164.0L874.5 161.5L874.6 159.0L874.7 156.5L874.8 154.0L874.9 151.5L875.0 149.0L875.1 146.5L875.2 144.0L875.3 141.5L875.4 139.0L875.5 136.5L875.6 134.0L875.7 131.5L875.8 129.0L875.9 126.5L876.0 124.0L876.2 121.5L876.3 119.0L876.4 116.5L876.5 114.1L876.6 111.6L876.7 109.1L876.8 106.6L876.9 104.1L877.0 101.6L877.1 99.1L877.2 96.6L877.4 94.1L877.5 91.6L877.6 89.1L877.7 86.6L877.8 84.1L877.9 81.6L878.0 79.1L878.1 76.6L878.2 74.1L878.3 71.6L878.5 69.1L878.6 66.6L878.7 64.1L878.8 61.6L878.9 59.1L879.0 56.6L879.1 54.1L879.2 51.6L879.3 49.1L879.5 46.6L879.6 44.1L879.7 41.6L879.8 39.1L879.9 36.6L880.0 34.1L880.1 31.6L880.2 30.0" fill="none" stroke="#f0281a" stroke-width="1.8" stroke-linejoin="round"/>
<g fill="#000" fill-opacity="0.5" stroke="#000" stroke-opacity="0.65" stroke-width="1">
<circle cx="112.5" cy="622.7" r="2.6"/>
<circle cx="115.4" cy="622.8" r="2.6"/>
<circle cx="129.5" cy="614.7" r="2.6"/>
<circle cx="121.1" cy="621.8" r="2.6"/>
<circle cx="124.0" cy="622.5" r="2.6"/>
<circle cx="126.8" cy="622.4" r="2.6"/>
<circle cx="129.7" cy="621.7" r="2.6"/>
<circle cx="132.5" cy="622.5" r="2.6"/>
<circle cx="135.4" cy="622.6" r="2.6"/>
<circle cx="138.3" cy="622.6" r="2.6"/>
<circle cx="141.1" cy="622.3" r="2.6"/>
<circle cx="144.0" cy="622.2" r="2.6"/>
<circle cx="146.8" cy="622.5" r="2.6"/>
<circle cx="149.7" cy="622.8" r="2.6"/>
<circle cx="152.5" cy="621.8" r="2.6"/>
<circle cx="155.4" cy="621.4" r="2.6"/>
<circle cx="158.3" cy="620.0" r="2.6"/>
<circle cx="161.1" cy="620.6" r="2.6"/>
<circle cx="164.0" cy="619.7" r="2.6"/>
<circle cx="166.8" cy="619.2" r="2.6"/>
<circle cx="169.7" cy="618.8" r="2.6"/>
<circle cx="172.6" cy="617.6" r="2.6"/>
<circle cx="175.4" cy="618.5" r="2.6"/>
<circle cx="178.3" cy="615.7" r="2.6"/>
<circle cx="181.1" cy="616.2" r="2.6"/>
<circle cx="184.0" cy="614.6" r="2.6"/>
<circle cx="186.8" cy="615.9" r="2.6"/>
<circle cx="189.7" cy="615.7" r="2.6"/>
<circle cx="192.6" cy="614.5" r="2.6"/>
<circle cx="195.4" cy="612.0" r="2.6"/>
<circle cx="198.3" cy="612.4" r="2.6"/>
<circle cx="201.1" cy="612.9" r="2.6"/>
<circle cx="204.0" cy="610.0" r="2.6"/>
<circle cx="206.9" cy="613.4" r="2.6"/>
<circle cx="209.7" cy="610.0" r="2.6"/>
<circle cx="212.6" cy="611.5" r="2.6"/>
<circle cx="215.4" cy="612.3" r="2.6"/>
<circle cx="218.3" cy="612.9" r="2.6"/>
<circle cx="221.1" cy="611.6" r="2.6"/>
<circle cx="224.0" cy="612.1" r="2.6"/>
<circle cx="226.9" cy="613.2" r="2.6"/>
<circle cx="229.7" cy="612.4" r="2.6"/>
<circle cx="232.6" cy="612.6" r="2.6"/>
<circle cx="235.4" cy="614.4" r="2.6"/>
<circle cx="238.3" cy="614.8" r="2.6"/>
<circle cx="241.1" cy="613.7" r="2.6"/>
<circle cx="244.0" cy="613.9" r="2.6"/>
<circle cx="246.9" cy="613.9" r="2.6"/>
<circle cx="249.7" cy="613.5" r="2.6"/>
<circle cx="252.6" cy="613.5" r="2.6"/>
<circle cx="255.4" cy="613.0" r="2.6"/>
<circle cx="258.3" cy="615.3" r="2.6"/>
<circle cx="261.2" cy="614.4" r="2.6"/>
<circle cx="264.0" cy="614.4" r="2.6"/>
<circle cx="266.9" cy="614.9" r="2.6"/>
<circle cx="269.7" cy="615.3" r="2.6"/>
<circle cx="272.6" cy="616.5" r="2.6"/>
<circle cx="275.4" cy="613.7" r="2.6"/>
<circle cx="278.3" cy="613.2" r="2.6"/>
<circle cx="281.2" cy="613.8" r="2.6"/>
<circle cx="284.0" cy="611.9" r="2.6"/>
<circle cx="286.9" cy="614.9" r="2.6"/>
<circle cx="289.7" cy="614.1" r="2.6"/>
<circle cx="292.6" cy="613.4" r="2.6"/>
<circle cx="295.4" cy="611.7" r="2.6"/>
<circle cx="298.3" cy="612.8" r="2.6"/>
<circle cx="301.2" cy="613.0" r="2.6"/>
<circle cx="304.0" cy="611.7" r="2.6"/>
<circle cx="306.9" cy="609.9" r="2.6"/>
<circle cx="309.7" cy="607.0" r="2.6"/>
<circle cx="312.6" cy="611.3" r="2.6"/>
<circle cx="315.5" cy="608.6" r="2.6"/>
<circle cx="318.3" cy="607.2" r="2.6"/>
<circle cx="321.2" cy="609.9" r="2.6"/>
<circle cx="324.0" cy="608.3" r="2.6"/>
<circle cx="326.9" cy="604.2" r="2.6"/>
<circle cx="329.7" cy="605.9" r="2.6"/>
<circle cx="332.6" cy="604.6" r="2.6"/>
<circle cx="335.5" cy="606.0" r="2.6"/>
<circle cx="338.3" cy="599.0" r="2.6"/>
<circle cx="358.0" cy="589.5" r="2.6"/>
<circle cx="343.6" cy="601.2" r="2.6"/>
<circle cx="347.3" cy="603.7" r="2.6"/>
<circle cx="350.6" cy="602.5" r="2.6"/>
<circle cx="353.1" cy="597.1" r="2.6"/>
<circle cx="355.5" cy="596.3" r="2.6"/>
<circle cx="361.2" cy="596.3" r="2.6"/>
<circle cx="364.5" cy="592.2" r="2.6"/>
<circle cx="369.1" cy="588.7" r="2.6"/>
<circle cx="372.3" cy="593.4" r="2.6"/>
<circle cx="375.6" cy="589.8" r="2.6"/>
<circle cx="378.7" cy="589.0" r="2.6"/>
<circle cx="380.8" cy="581.6" r="2.6"/>
<circle cx="383.8" cy="575.6" r="2.6"/>
<circle cx="386.5" cy="574.6" r="2.6"/>
<circle cx="390.1" cy="579.7" r="2.6"/>
<circle cx="391.9" cy="574.8" r="2.6"/>
<circle cx="394.7" cy="571.5" r="2.6"/>
<circle cx="398.0" cy="569.4" r="2.6"/>
<circle cx="400.7" cy="563.7" r="2.6"/>
<circle cx="404.0" cy="566.1" r="2.6"/>
<circle cx="406.9" cy="565.3" r="2.6"/>
<circle cx="409.9" cy="562.9" r="2.6"/>
<circle cx="412.7" cy="550.3" r="2.6"/>
<circle cx="415.1" cy="561.7" r="2.6"/>
<circle cx="418.4" cy="560.1" r="2.6"/>
<circle cx="421.1" cy="553.4" r="2.6"/>
<circle cx="424.1" cy="557.1" r="2.6"/>
<circle cx="426.9" cy="561.7" r="2.6"/>
<circle cx="429.5" cy="569.1" r="2.6"/>
<circle cx="432.6" cy="561.2" r="2.6"/>
<circle cx="435.2" cy="549.0" r="2.6"/>
<circle cx="438.0" cy="553.9" r="2.6"/>
<circle cx="441.2" cy="555.2" r="2.6"/>
<circle cx="444.5" cy="552.6" r="2.6"/>
<circle cx="446.9" cy="550.6" r="2.6"/>
<circle cx="449.7" cy="557.5" r="2.6"/>
<circle cx="452.7" cy="553.4" r="2.6"/>
<circle cx="455.1" cy="542.4" r="2.6"/>
<circle cx="458.4" cy="540.8" r="2.6"/>
<circle cx="461.3" cy="545.7" r="2.6"/>
<circle cx="463.8" cy="535.9" r="2.6"/>
<circle cx="466.5" cy="545.4" r="2.6"/>
<circle cx="469.8" cy="554.2" r="2.6"/>
<circle cx="472.6" cy="544.9" r="2.6"/>
<circle cx="475.5" cy="542.1" r="2.6"/>
<circle cx="478.4" cy="533.1" r="2.6"/>
<circle cx="481.2" cy="516.0" r="2.6"/>
<circle cx="483.7" cy="526.9" r="2.6"/>
<circle cx="486.6" cy="524.8" r="2.6"/>
<circle cx="489.7" cy="530.7" r="2.6"/>
<circle cx="492.7" cy="542.4" r="2.6"/>
<circle cx="495.4" cy="515.8" r="2.6"/>
<circle cx="498.0" cy="502.4" r="2.6"/>
<circle cx="501.2" cy="507.3" r="2.6"/>
<circle cx="504.2" cy="508.5" r="2.6"/>
<circle cx="506.9" cy="495.1" r="2.6"/>
<circle cx="509.9" cy="496.7" r="2.6"/>
<circle cx="512.7" cy="489.9" r="2.6"/>
<circle cx="515.4" cy="479.6" r="2.6"/>
<circle cx="518.4" cy="478.3" r="2.6"/>
<circle cx="521.1" cy="482.5" r="2.6"/>
<circle cx="524.1" cy="466.5" r="2.6"/>
<circle cx="526.9" cy="490.2" r="2.6"/>
<circle cx="529.8" cy="494.8" r="2.6"/>
<circle cx="532.6" cy="502.8" r="2.6"/>
<circle cx="535.5" cy="474.7" r="2.6"/>
<circle cx="538.4" cy="477.5" r="2.6"/>
<circle cx="541.2" cy="457.2" r="2.6"/>
<circle cx="544.2" cy="455.4" r="2.6"/>
<circle cx="546.9" cy="475.2" r="2.6"/>
<circle cx="549.9" cy="476.3" r="2.6"/>
<circle cx="552.7" cy="470.6" r="2.6"/>
<circle cx="555.6" cy="471.4" r="2.6"/>
<circle cx="558.4" cy="449.7" r="2.6"/>
<circle cx="561.1" cy="445.8" r="2.6"/>
<circle cx="564.1" cy="440.4" r="2.6"/>
<circle cx="567.0" cy="445.6" r="2.6"/>
<circle cx="569.8" cy="464.4" r="2.6"/>
<circle cx="572.6" cy="451.3" r="2.6"/>
<circle cx="575.5" cy="437.6" r="2.6"/>
<circle cx="578.3" cy="436.8" r="2.6"/>
<circle cx="581.2" cy="440.4" r="2.6"/>
<circle cx="586.9" cy="433.9" r="2.6"/>
<circle cx="589.7" cy="439.6" r="2.6"/>
<circle cx="592.7" cy="449.1" r="2.6"/>
<circle cx="595.6" cy="433.1" r="2.6"/>
<circle cx="598.4" cy="424.4" r="2.6"/>
<circle cx="601.3" cy="430.9" r="2.6"/>
<circle cx="604.1" cy="422.0" r="2.6"/>
<circle cx="607.0" cy="422.0" r="2.6"/>
<circle cx="609.8" cy="445.6" r="2.6"/>
<circle cx="612.7" cy="440.1" r="2.6"/>
<circle cx="615.5" cy="422.4" r="2.6"/>
<circle cx="618.4" cy="429.3" r="2.6"/>
<circle cx="621.2" cy="426.5" r="2.6"/>
<circle cx="624.2" cy="430.1" r="2.6"/>
<circle cx="626.9" cy="430.9" r="2.6"/>
<circle cx="629.9" cy="447.8" r="2.6"/>
<circle cx="632.7" cy="421.6" r="2.6"/>
<circle cx="635.4" cy="435.8" r="2.6"/>
<circle cx="638.0" cy="436.3" r="2.6"/>
<circle cx="641.1" cy="438.8" r="2.6"/>
<circle cx="646.9" cy="411.8" r="2.6"/>
<circle cx="649.8" cy="434.2" r="2.6"/>
<circle cx="652.6" cy="395.2" r="2.6"/>
<circle cx="655.5" cy="407.3" r="2.6"/>
<circle cx="658.4" cy="374.0" r="2.6"/>
<circle cx="661.2" cy="396.3" r="2.6"/>
<circle cx="664.0" cy="428.2" r="2.6"/>
<circle cx="666.9" cy="382.9" r="2.6"/>
<circle cx="669.7" cy="405.3" r="2.6"/>
<circle cx="672.7" cy="396.8" r="2.6"/>
<circle cx="675.4" cy="378.7" r="2.6"/>
<circle cx="678.4" cy="361.2" r="2.6"/>
<circle cx="681.1" cy="375.9" r="2.6"/>
<circle cx="684.1" cy="379.2" r="2.6"/>
<circle cx="687.0" cy="412.3" r="2.6"/>
<circle cx="689.8" cy="441.7" r="2.6"/>
<circle cx="692.6" cy="424.9" r="2.6"/>
<circle cx="695.5" cy="410.7" r="2.6"/>
<circle cx="698.3" cy="422.1" r="2.6"/>
<circle cx="701.2" cy="421.6" r="2.6"/>
<circle cx="704.2" cy="434.7" r="2.6"/>
<circle cx="709.8" cy="474.9" r="2.6"/>
<circle cx="706.7" cy="478.8" r="2.6"/>
<circle cx="644.2" cy="468.8" r="2.6"/>
<circle cx="584.2" cy="411.8" r="2.6"/>
</g>
</g>
<path d="M109.8 38.9H941.0V625.3" fill="none" stroke="#d9d9d9" stroke-width="1.6"/>
<g stroke="#d0d0d0" stroke-width="1.2">
<path d="M135.4 625.3V629.5"/>
<path d="M224.0 625.3V629.5"/>
<path d="M312.6 625.3V629.5"/>
<path d="M398.3 625.3V629.5"/>
<path d="M486.9 625.3V629.5"/>
<path d="M572.7 625.3V629.5"/>
<path d="M661.3 625.3V629.5"/>
<path d="M749.9 625.3V629.5"/>
<path d="M829.9 625.3V629.5"/>
<path d="M918.5 625.3V629.5"/>
<path d="M105.6 625.3H109.8"/>
<path d="M105.6 478.7H109.8"/>
<path d="M105.6 332.1H109.8"/>
<path d="M105.6 185.5H109.8"/>
<path d="M105.6 38.9H109.8"/>
</g>
<path d="M109.8 38.5V627.6999999999999" stroke="#bebebe" stroke-width="4.6" fill="none"/>
<path d="M107.5 625.4H941.1" stroke="#bebebe" stroke-width="4.8" fill="none"/>
<g font-family="'Liberation Sans', Arial, Helvetica, sans-serif" font-size="16.3" fill="#4d4d4d">
<text x="102.3" y="631.0" text-anchor="end">0</text>
<text x="102.3" y="484.4" text-anchor="end">5000</text>
<text x="102.3" y="337.8" text-anchor="end">10000</text>
<text x="102.3" y="191.2" text-anchor="end">15000</text>
<text x="102.3" y="44.6" text-anchor="end">20000</text>
<text x="135.4" y="643.9" text-anchor="middle">July</text>
<text x="224.0" y="643.9" text-anchor="middle">August</text>
<text x="312.6" y="643.9" text-anchor="middle">September</text>
<text x="398.3" y="643.9" text-anchor="middle">October</text>
<text x="486.9" y="643.9" text-anchor="middle">November</text>
<text x="572.7" y="643.9" text-anchor="middle">December</text>
<text x="661.3" y="643.9" text-anchor="middle">January</text>
<text x="749.9" y="643.9" text-anchor="middle">February</text>
<text x="829.9" y="643.9" text-anchor="middle">March</text>
<text x="918.5" y="643.9" text-anchor="middle">April</text>
</g>
<text transform="translate(50.6 332.1) rotate(-90)" text-anchor="middle" font-family="'Liberation Sans', Arial, Helvetica, sans-serif" font-size="16.3" fill="#000">Reported cases</text>
</svg>
</body></html>
